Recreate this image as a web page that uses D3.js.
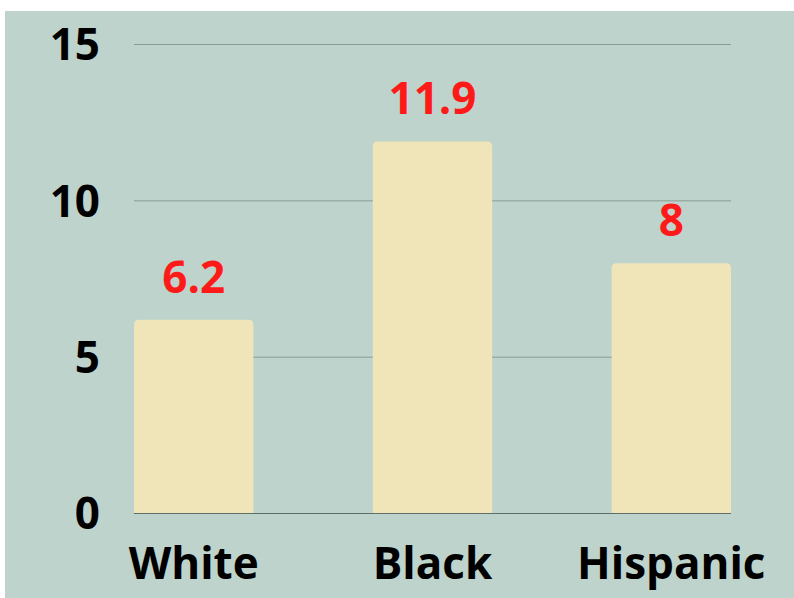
<!DOCTYPE html>
<html>
<head>
<meta charset="utf-8">
<script src="https://cdn.jsdelivr.net/npm/d3@7"></script>
<style>
    body { margin: 0; background: #ffffff; }
    svg { display: block; }
    text { font-family: "Open Sans", sans-serif; font-weight: 700; }
</style>
</head>
<body>
<div id="chart"></div>
<script>
// chart data
const groups = ['White', 'Black', 'Hispanic'];
const rates = [6.2, 11.9, 8];
const yTicks = [0, 5, 10, 15];

const width = 794, height = 598;

const svg = d3.select('#chart')
    .append('svg')
    .attr('width', width)
    .attr('height', height);

// sage panel, slightly offset from the top/left edge
svg.append('rect')
    .attr('x', 5)
    .attr('y', 11)
    .attr('width', width - 5)
    .attr('height', height - 11)
    .attr('fill', '#bdd3cb');

const x = d3.scaleBand()
    .domain(groups)
    .range([134, 731])
    .paddingInner(0.5)
    .paddingOuter(0);

const y = d3.scaleLinear()
    .domain([0, 15])
    .range([513.5, 44.5]);

// gridlines
svg.append('g')
    .selectAll('line')
    .data(yTicks.filter(d => d > 0))
    .join('line')
    .attr('x1', 134)
    .attr('x2', 731)
    .attr('y1', d => y(d))
    .attr('y2', d => y(d))
    .attr('stroke', '#8b9c94')
    .attr('stroke-width', 1);

// bars, rounded top corners only
const r = 5;
svg.append('g')
    .selectAll('path')
    .data(groups)
    .join('path')
    .attr('fill', '#f0e5b8')
    .attr('d', (d, i) => {
        const x0 = x(d), x1 = x(d) + x.bandwidth();
        const y0 = y(rates[i]), y1 = y(0);
        return `M${x0},${y1}V${y0 + r}Q${x0},${y0} ${x0 + r},${y0}H${x1 - r}Q${x1},${y0} ${x1},${y0 + r}V${y1}Z`;
    });

// baseline
svg.append('line')
    .attr('x1', 134)
    .attr('x2', 731)
    .attr('y1', y(0))
    .attr('y2', y(0))
    .attr('stroke', '#5e6e66')
    .attr('stroke-width', 1.2);

// value labels
svg.append('g')
    .selectAll('text')
    .data(groups)
    .join('text')
    .attr('x', d => x(d) + x.bandwidth() / 2)
    .attr('y', (d, i) => y(rates[i]) - 27)
    .attr('text-anchor', 'middle')
    .attr('fill', '#ff1a1a')
    .attr('font-size', 44)
    .text((d, i) => rates[i]);

// y axis labels
svg.append('g')
    .selectAll('text')
    .data(yTicks)
    .join('text')
    .attr('x', 100)
    .attr('y', d => y(d))
    .attr('dy', '0.36em')
    .attr('text-anchor', 'end')
    .attr('fill', '#000')
    .attr('font-size', 44)
    .text(d => d);

// category labels
svg.append('g')
    .selectAll('text')
    .data(groups)
    .join('text')
    .attr('x', d => x(d) + x.bandwidth() / 2)
    .attr('y', 579)
    .attr('text-anchor', 'middle')
    .attr('fill', '#000')
    .attr('font-size', 44)
    .text(d => d);
</script>
</body>
</html>
